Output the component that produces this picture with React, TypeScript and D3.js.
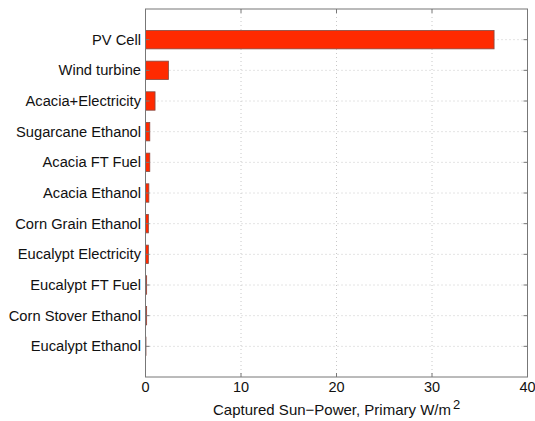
import React from "react";
import * as d3 from "d3";

const categories = [
  "PV Cell",
  "Wind turbine",
  "Acacia+Electricity",
  "Sugarcane Ethanol",
  "Acacia FT Fuel",
  "Acacia Ethanol",
  "Corn Grain Ethanol",
  "Eucalypt Electricity",
  "Eucalypt FT Fuel",
  "Corn Stover Ethanol",
  "Eucalypt Ethanol",
];
const values = [36.5, 2.4, 1.0, 0.45, 0.45, 0.35, 0.3, 0.3, 0.12, 0.12, 0.05];
const xTicks = [0, 10, 20, 30, 40];

const W = 535;
const H = 421;
const left = 145.5;
const right = 527.5;
const top = 9;
const bottom = 377;

export default function App() {
  const x = d3.scaleLinear().domain([0, 40]).range([left, right]);
  const y = d3.scaleLinear().domain([0, categories.length + 1]).range([top, bottom]);
  const slot = y(1) - y(0);
  const barH = slot * 0.6;
  const font = "Helvetica, Arial, 'Liberation Sans', sans-serif";
  return (
    <svg
      width={W}
      height={H}
      style={{ position: "absolute", left: 0, top: 0, background: "#fff" }}
      fontFamily={font}
    >
      <rect x={0} y={0} width={W} height={H} fill="#fff" />
      {/* gridlines */}
      {categories.map((c, i) => (
        <line
          key={"hg" + c}
          x1={left}
          x2={right}
          y1={y(i + 1)}
          y2={y(i + 1)}
          stroke="#c8c8c8"
          strokeWidth={1}
          strokeDasharray="1,3"
        />
      ))}
      {xTicks.slice(1, -1).map((t) => (
        <line
          key={"vg" + t}
          x1={x(t)}
          x2={x(t)}
          y1={top}
          y2={bottom}
          stroke="#c8c8c8"
          strokeWidth={1}
          strokeDasharray="1,3"
        />
      ))}
      {/* bars */}
      {categories.map((c, i) => (
        <rect
          key={"b" + c}
          x={x(0)}
          y={y(i + 1) - barH / 2}
          width={x(values[i]) - x(0)}
          height={barH}
          fill="#ff2a00"
          stroke="#854a42"
          strokeWidth={0.8}
        />
      ))}
      {/* frame */}
      <rect
        x={left}
        y={top}
        width={right - left}
        height={bottom - top}
        fill="none"
        stroke="#777"
        strokeWidth={1}
      />
      {/* ticks */}
      {xTicks.map((t) => (
        <g key={"xt" + t}>
          <line x1={x(t)} x2={x(t)} y1={bottom} y2={bottom - 4} stroke="#777" />
          <line x1={x(t)} x2={x(t)} y1={top} y2={top + 4} stroke="#777" />
          <text
            x={x(t)}
            y={392}
            textAnchor="middle"
            fontSize={14.5}
            fill="#111"
          >
            {t}
          </text>
        </g>
      ))}
      {categories.map((c, i) => (
        <g key={"yt" + c}>
          <line x1={left} x2={left + 4} y1={y(i + 1)} y2={y(i + 1)} stroke="#777" />
          <line x1={right} x2={right - 4} y1={y(i + 1)} y2={y(i + 1)} stroke="#777" />
          <text
            x={141}
            y={y(i + 1)}
            dy="0.35em"
            textAnchor="end"
            fontSize={14.7}
            fill="#111"
          >
            {c}
          </text>
        </g>
      ))}
      <text x={213} y={415} fontSize={15} fill="#111">
        Captured Sun−Power, Primary W/m
        <tspan dx={2} dy={-6} fontSize={13}>
          2
        </tspan>
      </text>
    </svg>
  );
}
